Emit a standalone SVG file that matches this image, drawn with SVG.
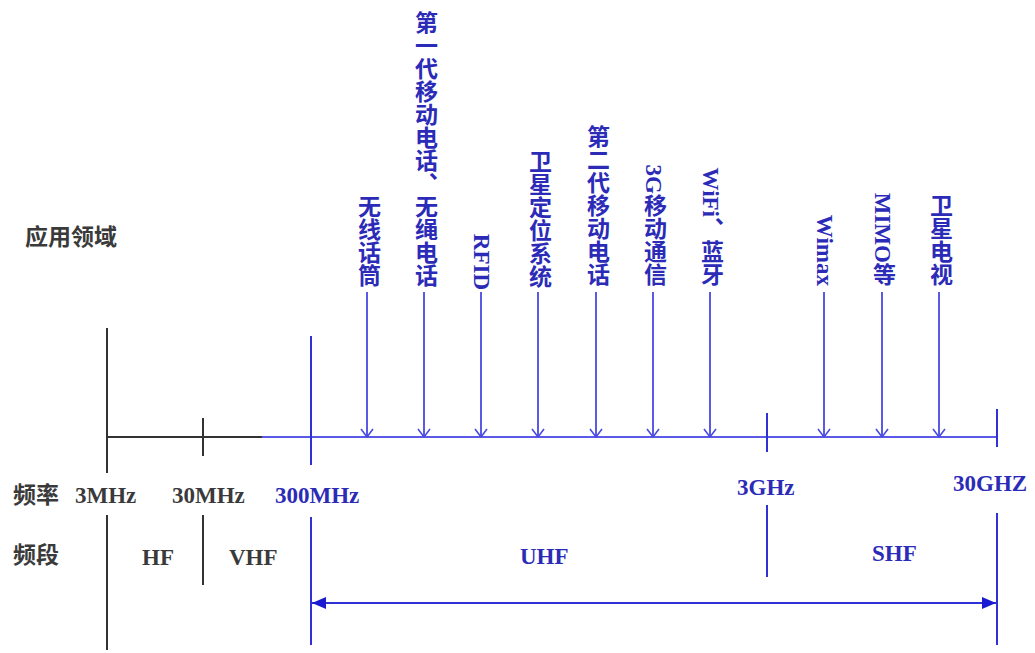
<svg xmlns="http://www.w3.org/2000/svg" width="1035" height="653" viewBox="0 0 1035 653">
<defs>
<style>
.t{font-family:"Liberation Serif","Noto Sans CJK SC",serif;font-weight:bold;font-size:23px}
.g{fill:#3a3a3a}
.b{fill:#2b2bb8}
.v{font-family:"Liberation Serif","Noto Sans CJK SC",serif;font-weight:bold;font-size:23px;fill:#2b2bb8;writing-mode:vertical-rl;text-anchor:end}
.bk{stroke:#333;stroke-width:2;fill:none}
.bl{stroke:#3030d8;stroke-width:2;fill:none}
.al{stroke:#5a5ae6;stroke-width:2;fill:none}
</style>
<marker id="open" viewBox="-10 -8 12 16" markerWidth="12" markerHeight="16" refX="0" refY="0" orient="auto" markerUnits="userSpaceOnUse" overflow="visible">
<path d="M-8,-6 L0,0 L-8,6" stroke="#4a4ae0" stroke-width="1.6" fill="none"/>
</marker>
<marker id="fill" viewBox="-14 -6 14 12" markerWidth="14" markerHeight="12" refX="0" refY="0" orient="auto-start-reverse" markerUnits="userSpaceOnUse">
<path d="M-14,-6 L0,0 L-14,6 Z" fill="#1a1ad0"/>
</marker>
</defs>
<rect width="1035" height="653" fill="#fff"/>
<g id="labels-left">
<text class="t g" x="25" y="245">应用领域</text>
<text class="t g" x="13" y="503">频率</text>
<text class="t g" x="13" y="563">频段</text>
</g>
<g id="freq-labels">
<text class="t g" x="75" y="503">3MHz</text>
<text class="t g" x="172" y="503">30MHz</text>
<text class="t b" x="275" y="503">300MHz</text>
<text class="t b" x="737" y="495">3GHz</text>
<text class="t b" x="953" y="491">30GHZ</text>
</g>
<g id="band-labels">
<text class="t g" x="142" y="565">HF</text>
<text class="t g" x="229" y="565">VHF</text>
<text class="t b" x="520" y="564">UHF</text>
<text class="t b" x="872" y="561">SHF</text>
</g>
<g id="app-labels">
<text id="n1" class="v" x="367" y="287">无线话筒</text>
<text id="n2" class="v" x="424" y="287">第一代移动电话、无绳电话</text>
<text id="n3" class="v" x="481" y="290">RFID</text>
<text id="n4" class="v" x="538" y="288">卫星定位系统</text>
<text id="n5" class="v" x="596" y="286">第二代移动电话</text>
<text id="n6" class="v" x="653" y="286">3G移动通信</text>
<text id="n7" class="v" x="710" y="286">WiFi、蓝牙</text>
<text id="n8" class="v" x="824" y="286">Wimax</text>
<text id="n9" class="v" x="882" y="286">MIMO等</text>
<text id="n10" class="v" x="939" y="286">卫星电视</text>
</g>
<g id="connectors">
<line class="bk" x1="106" y1="437" x2="262" y2="437"/>
<line class="al" x1="262" y1="437" x2="997" y2="437"/>
<line class="bk" x1="107" y1="328" x2="107" y2="473"/>
<line class="bk" x1="107" y1="515" x2="107" y2="650"/>
<line class="bk" x1="203" y1="418" x2="203" y2="456"/>
<line class="bk" x1="203" y1="515" x2="203" y2="585"/>
<line class="bl" x1="311" y1="336" x2="311" y2="465"/>
<line class="bl" x1="311" y1="517" x2="311" y2="645"/>
<line class="bl" x1="767" y1="413" x2="767" y2="452"/>
<line class="bl" x1="767" y1="505" x2="767" y2="577"/>
<line class="bl" x1="997" y1="409" x2="997" y2="447"/>
<line class="bl" x1="997" y1="513" x2="997" y2="645"/>
<line class="bl" x1="312" y1="603" x2="996" y2="603" marker-start="url(#fill)" marker-end="url(#fill)"/>
<g class="al" marker-end="url(#open)">
<line x1="367" y1="292" x2="367" y2="437"/>
<line x1="424" y1="292" x2="424" y2="437"/>
<line x1="481" y1="292" x2="481" y2="437"/>
<line x1="538" y1="292" x2="538" y2="437"/>
<line x1="596" y1="292" x2="596" y2="437"/>
<line x1="653" y1="292" x2="653" y2="437"/>
<line x1="710" y1="292" x2="710" y2="437"/>
<line x1="824" y1="292" x2="824" y2="437"/>
<line x1="882" y1="292" x2="882" y2="437"/>
<line x1="939" y1="292" x2="939" y2="437"/>
</g>
</g>
</svg>
